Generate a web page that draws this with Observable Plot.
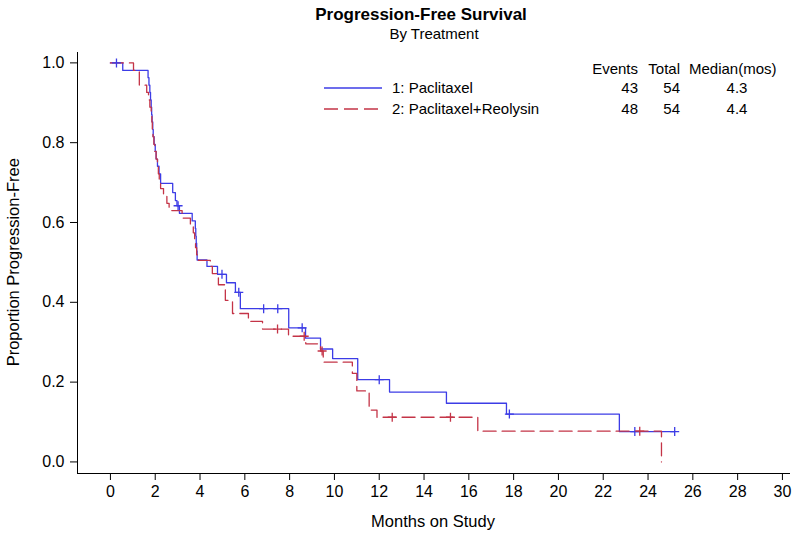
<!DOCTYPE html>
<html><head><meta charset="utf-8">
<script src="https://cdn.jsdelivr.net/npm/d3@7"></script>
<script src="https://cdn.jsdelivr.net/npm/@observablehq/plot@0.6"></script>
<style>
body{margin:0;background:#fff;font-family:"Liberation Sans",Arial,sans-serif;}
#wrap{position:relative;width:800px;height:538px;overflow:hidden;}
.t{position:absolute;white-space:nowrap;color:#000;line-height:1;}
</style></head><body><div id="wrap"></div>
<script>
// ---- data ----
const seriesNames = ["1: Paclitaxel", "2: Paclitaxel+Reolysin"];
const events = [43, 48];
const totals = [54, 54];
const medians = ["4.3", "4.4"];

const blueTimes = [0, 0.55, 1.68, 1.72, 1.76, 1.79, 1.82, 1.84, 1.86, 1.89, 1.91, 1.95, 2.00, 2.04, 2.10, 2.17, 2.24, 2.78, 2.90, 2.97, 3.08, 3.65, 3.79, 3.81, 3.83, 3.85, 3.87, 4.31, 4.78, 5.18, 5.58, 5.80, 7.96, 8.71, 9.38, 9.92, 11.04, 12.46, 15.0, 17.68, 22.72, 25.19];
const blueSurv  = [1.0, 0.981, 0.963, 0.944, 0.926, 0.907, 0.889, 0.870, 0.852, 0.833, 0.815, 0.796, 0.778, 0.759, 0.741, 0.722, 0.698, 0.675, 0.655, 0.642, 0.623, 0.604, 0.585, 0.566, 0.548, 0.529, 0.506, 0.490, 0.470, 0.449, 0.425, 0.384, 0.336, 0.310, 0.283, 0.259, 0.206, 0.175, 0.147, 0.120, 0.076, 0.076];
const blueCensored = [0.27, 3.02, 4.98, 5.73, 6.84, 7.47, 8.56, 12.0, 17.81, 23.41, 25.19];

const redTimes = [0, 1.03, 1.29, 1.62, 1.70, 1.76, 1.82, 1.85, 1.87, 1.90, 1.94, 1.98, 2.04, 2.10, 2.14, 2.18, 2.24, 2.37, 2.52, 2.62, 3.20, 3.57, 3.70, 3.76, 3.80, 3.85, 3.93, 4.46, 4.55, 4.82, 5.13, 5.45, 6.16, 6.79, 7.95, 8.72, 9.38, 9.50, 10.80, 11.00, 11.55, 11.90, 16.40, 24.60];
const redSurv  = [1.0, 0.981, 0.944, 0.926, 0.907, 0.889, 0.870, 0.852, 0.833, 0.815, 0.796, 0.778, 0.759, 0.741, 0.722, 0.704, 0.685, 0.667, 0.648, 0.630, 0.611, 0.593, 0.574, 0.556, 0.537, 0.519, 0.505, 0.490, 0.472, 0.444, 0.405, 0.372, 0.352, 0.333, 0.315, 0.296, 0.278, 0.250, 0.222, 0.178, 0.130, 0.112, 0.077, 0.0];
const redCensored = [7.46, 8.65, 9.45, 12.58, 15.18, 23.63];

const xTicks = [0,2,4,6,8,10,12,14,16,18,20,22,24,26,28,30];
const yTicks = [0,0.2,0.4,0.6,0.8,1.0];
const xLabel = "Months on Study";
const yLabel = "Proportion Progression-Free";

// ---- styling ----
const BLUE = "#3c3ce6", RED = "#c43447";
const FONT = "'Liberation Sans', Arial, sans-serif";
const xDomain = [-1.47, 30.36], yDomain = [-0.029, 1.026];

const stepAt = (T, S, t) => { let v = S[0]; for (let i = 0; i < T.length; i++) if (T[i] <= t) v = S[i]; return v; };
const blueData = blueTimes.map((t, i) => ({t, s: blueSurv[i]}));
const redData = redTimes.map((t, i) => ({t, s: redSurv[i]}));
const blueCens = blueCensored.map(t => ({t, s: stepAt(blueTimes, blueSurv, t)}));
const redCens = redCensored.map(t => ({t, s: stepAt(redTimes, redSurv, t)}));

const plusSymbol = {draw(ctx, size) { const r = Math.sqrt(size / Math.PI); ctx.moveTo(-r, 0); ctx.lineTo(r, 0); ctx.moveTo(0, -r); ctx.lineTo(0, r); }};

const chart = Plot.plot({
  width: 800, height: 538,
  marginTop: 52, marginBottom: 65, marginLeft: 77, marginRight: 10,
  style: {fontFamily: FONT, fontSize: "16px", color: "#000", background: "white"},
  x: {domain: xDomain, ticks: xTicks, tickFormat: d => String(d), tickSize: 7, tickPadding: 5, label: null},
  y: {domain: yDomain, ticks: yTicks, tickFormat: d3.format(".1f"), tickSize: 7, tickPadding: 6, label: null},
  marks: [
    Plot.ruleX([xDomain[0]], {stroke: "#000"}),
    Plot.ruleY([yDomain[0]], {stroke: "#000"}),
    Plot.line(blueData, {x: "t", y: "s", curve: "step-after", stroke: BLUE, strokeWidth: 1.3}),
    Plot.line(redData, {x: "t", y: "s", curve: "step-after", stroke: RED, strokeWidth: 1.3, strokeDasharray: "13,6"}),
    Plot.dot(blueCens, {x: "t", y: "s", symbol: plusSymbol, r: 4.5, stroke: BLUE, fill: "none", strokeWidth: 1.3}),
    Plot.dot(redCens, {x: "t", y: "s", symbol: plusSymbol, r: 4.5, stroke: RED, fill: "none", strokeWidth: 1.3})
  ]
});
const wrap = document.getElementById("wrap");
wrap.appendChild(chart);

function addText(txt, css) { const d = document.createElement("div"); d.className = "t"; d.textContent = txt; Object.assign(d.style, css); wrap.appendChild(d); return d; }
// title & subtitle
addText("Progression-Free Survival", {left: "221px", width: "400px", textAlign: "center", top: "6px", fontSize: "17px", fontWeight: "bold"});
addText("By Treatment", {left: "234px", width: "400px", textAlign: "center", top: "26px", fontSize: "15px"});
// axis labels
addText(xLabel, {left: "233px", width: "400px", textAlign: "center", top: "513px", fontSize: "16.5px"});
addText(yLabel, {left: "-187px", width: "400px", textAlign: "center", top: "254px", fontSize: "16.5px", transform: "rotate(-90deg)"});

// legend with table
const rowY = [88, 109];
const FS = "15px";
addText("Events", {left: "540px", width: "98px", textAlign: "right", top: (69 - 8) + "px", fontSize: FS});
addText("Total", {left: "600px", width: "80px", textAlign: "right", top: (69 - 8) + "px", fontSize: FS});
addText("Median(mos)", {left: "689px", top: (69 - 8) + "px", fontSize: FS});
seriesNames.forEach((name, i) => {
  const svg = d3.create("svg").attr("width", 60).attr("height", 6)
    .style("position", "absolute").style("left", "324px").style("top", (rowY[i] - 3) + "px");
  svg.append("line").attr("x1", 0).attr("x2", 58).attr("y1", 3).attr("y2", 3)
    .attr("stroke", i === 0 ? BLUE : RED).attr("stroke-width", 1.3)
    .attr("stroke-dasharray", i === 0 ? null : "14,6");
  wrap.appendChild(svg.node());
  addText(name, {left: "392px", top: (rowY[i] - 8) + "px", fontSize: FS});
  addText(String(events[i]), {left: "540px", width: "98px", textAlign: "right", top: (rowY[i] - 8) + "px", fontSize: FS});
  addText(String(totals[i]), {left: "600px", width: "80px", textAlign: "right", top: (rowY[i] - 8) + "px", fontSize: FS});
  addText(medians[i], {left: "687px", width: "100px", textAlign: "center", top: (rowY[i] - 8) + "px", fontSize: FS});
});
</script></body></html>
